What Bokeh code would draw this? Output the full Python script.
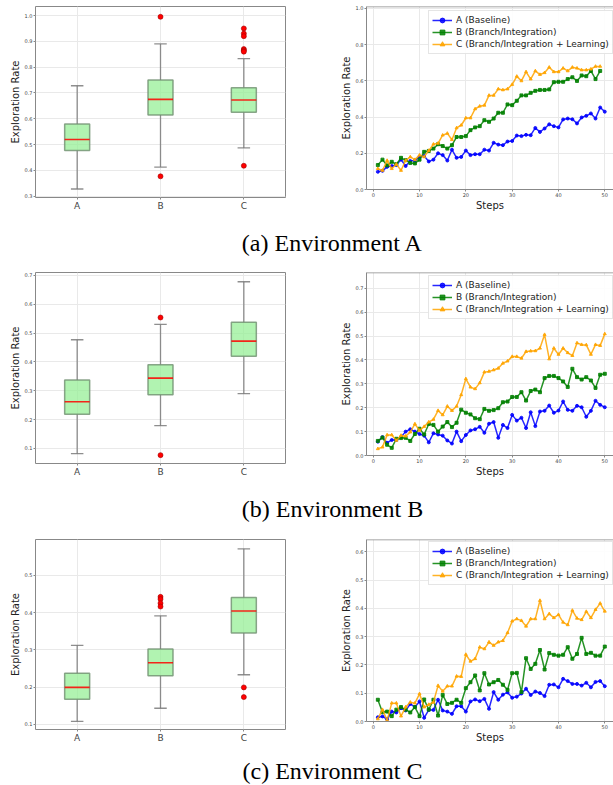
from bokeh.plotting import figure
from bokeh.layouts import column, row
from bokeh.models import (Range1d, FixedTicker, PrintfTickFormatter, Legend,
                          LegendItem, Span, ColumnDataSource, Label)
from bokeh.embed import file_html
from bokeh.resources import INLINE

# ---------------- data ----------------
categories = ["A", "B", "C"]
series_names = ["A (Baseline)", "B (Branch/Integration)", "C (Branch/Integration + Learning)"]
captions = ["(a) Environment A", "(b) Environment B", "(c) Environment C"]

# box statistics: whisker low, q1, median, q3, whisker high ; outliers per category
envA_lo = [0.328, 0.413, 0.487]
envA_q1 = [0.477, 0.615, 0.625]
envA_med = [0.520, 0.675, 0.673]
envA_q3 = [0.580, 0.750, 0.720]
envA_hi = [0.728, 0.890, 0.833]
envA_out = [[], [0.995, 0.377], [0.95, 0.93, 0.92, 0.87, 0.865, 0.86, 0.418]]

envB_lo = [0.082, 0.179, 0.290]
envB_q1 = [0.219, 0.286, 0.420]
envB_med = [0.262, 0.344, 0.472]
envB_q3 = [0.337, 0.390, 0.538]
envB_hi = [0.477, 0.530, 0.678]
envB_out = [[], [0.554, 0.077], []]

envC_lo = [0.108, 0.143, 0.233]
envC_q1 = [0.167, 0.230, 0.345]
envC_med = [0.199, 0.265, 0.404]
envC_q3 = [0.237, 0.302, 0.440]
envC_hi = [0.312, 0.391, 0.571]
envC_out = [[], [0.442, 0.436, 0.425, 0.416], [0.199, 0.173]]

# exploration rate per step
envA_A = [0.098, 0.103, 0.125, 0.13, 0.135, 0.165, 0.13, 0.158, 0.16, 0.18,
          0.185, 0.155, 0.165, 0.20, 0.19, 0.16, 0.22, 0.175, 0.18, 0.215,
          0.19, 0.195, 0.195, 0.22, 0.215, 0.258, 0.248, 0.245, 0.265, 0.268,
          0.298, 0.295, 0.302, 0.30, 0.34, 0.318, 0.337, 0.36, 0.35, 0.343,
          0.387, 0.392, 0.388, 0.365, 0.398, 0.407, 0.42, 0.392, 0.453, 0.43]
envA_B = [0.135, 0.165, 0.133, 0.153, 0.14, 0.175, 0.162, 0.147, 0.144, 0.165,
          0.208, 0.213, 0.226, 0.25, 0.24, 0.226, 0.245, 0.29, 0.29, 0.295,
          0.328, 0.343, 0.35, 0.383, 0.374, 0.392, 0.424, 0.424, 0.47, 0.466,
          0.49, 0.52, 0.52, 0.534, 0.545, 0.55, 0.55, 0.553, 0.593, 0.595,
          0.595, 0.61, 0.62, 0.60, 0.63, 0.626, 0.655, 0.61, 0.655]
envA_C = [0.115, 0.105, 0.16, 0.115, 0.14, 0.105, 0.16, 0.18, 0.165, 0.19,
          0.18, 0.215, 0.25, 0.255, 0.30, 0.31, 0.275, 0.34, 0.355, 0.395,
          0.395, 0.445, 0.46, 0.465, 0.52, 0.52, 0.555, 0.55, 0.555, 0.58,
          0.625, 0.60, 0.65, 0.61, 0.655, 0.635, 0.645, 0.675, 0.65, 0.65,
          0.67, 0.655, 0.675, 0.67, 0.66, 0.66, 0.665, 0.68, 0.68]

envB_A = [0.058, 0.077, 0.053, 0.065, 0.065, 0.077, 0.10, 0.11, 0.10, 0.09,
          0.083, 0.055, 0.093, 0.088, 0.083, 0.063, 0.05, 0.10, 0.06, 0.086,
          0.105, 0.11, 0.12, 0.095, 0.133, 0.14, 0.074, 0.128, 0.115, 0.17,
          0.146, 0.158, 0.115, 0.181, 0.123, 0.184, 0.187, 0.209, 0.179, 0.188,
          0.226, 0.191, 0.187, 0.208, 0.202, 0.162, 0.187, 0.229, 0.212, 0.202]
envB_B = [0.061, 0.075, 0.045, 0.032, 0.07, 0.073, 0.074, 0.061, 0.09, 0.112,
          0.088, 0.132, 0.128, 0.10, 0.121, 0.14, 0.119, 0.137, 0.192, 0.179,
          0.172, 0.156, 0.152, 0.195, 0.187, 0.19, 0.198, 0.223, 0.226, 0.245,
          0.245, 0.265, 0.23, 0.27, 0.276, 0.265, 0.324, 0.333, 0.333, 0.324,
          0.31, 0.287, 0.363, 0.328, 0.318, 0.328, 0.314, 0.283, 0.338, 0.342]
envB_C = [0.028, 0.035, 0.086, 0.086, 0.063, 0.084, 0.081, 0.098, 0.132, 0.105,
          0.121, 0.14, 0.151, 0.188, 0.17, 0.206, 0.188, 0.206, 0.254, 0.321,
          0.286, 0.279, 0.304, 0.349, 0.352, 0.358, 0.365, 0.386, 0.395, 0.414,
          0.414, 0.407, 0.435, 0.437, 0.438, 0.449, 0.506, 0.404, 0.449, 0.423,
          0.449, 0.43, 0.418, 0.471, 0.464, 0.463, 0.423, 0.464, 0.46, 0.509]

envC_A = [0.015, 0.018, 0.008, 0.035, 0.032, 0.047, 0.039, 0.062, 0.051, 0.071,
          0.013, 0.041, 0.041, 0.077, 0.039, 0.035, 0.027, 0.054, 0.054, 0.035,
          0.071, 0.078, 0.072, 0.08, 0.045, 0.104, 0.077, 0.095, 0.103, 0.084,
          0.088, 0.099, 0.116, 0.094, 0.106, 0.101, 0.09, 0.13, 0.131, 0.121,
          0.151, 0.143, 0.133, 0.133, 0.127, 0.137, 0.121, 0.14, 0.143, 0.125]
envC_B = [0.077, 0.033, 0.035, 0.019, 0.042, 0.051, 0.042, 0.032, 0.051, 0.019,
          0.078, 0.042, 0.077, 0.021, 0.094, 0.062, 0.066, 0.077, 0.066, 0.118,
          0.139, 0.163, 0.11, 0.171, 0.131, 0.139, 0.147, 0.13, 0.112, 0.171,
          0.172, 0.104, 0.224, 0.186, 0.204, 0.253, 0.184, 0.242, 0.236, 0.233,
          0.236, 0.263, 0.222, 0.239, 0.296, 0.239, 0.243, 0.233, 0.233, 0.265]
envC_C = [0.009, 0.042, 0.004, 0.065, 0.065, 0.019, 0.051, 0.068, 0.065, 0.098,
          0.051, 0.06, 0.068, 0.127, 0.107, 0.125, 0.125, 0.16, 0.159, 0.237,
          0.213, 0.222, 0.263, 0.257, 0.281, 0.269, 0.281, 0.286, 0.314, 0.355,
          0.363, 0.357, 0.337, 0.363, 0.363, 0.428, 0.363, 0.381, 0.367, 0.378,
          0.351, 0.342, 0.393, 0.365, 0.36, 0.389, 0.367, 0.396, 0.418, 0.39]

box_yticks = [[0.3, 0.4, 0.5, 0.6, 0.7, 0.8, 0.9, 1.0],
              [0.1, 0.2, 0.3, 0.4, 0.5, 0.6, 0.7],
              [0.1, 0.2, 0.3, 0.4, 0.5]]
line_yticks = [[0.0, 0.2, 0.4, 0.6, 0.8, 1.0],
               [0.0, 0.1, 0.2, 0.3, 0.4, 0.5, 0.6, 0.7],
               [0.0, 0.1, 0.2, 0.3, 0.4, 0.5, 0.6]]
step_ticks = [0, 10, 20, 30, 40, 50]

# ---------------- styling ----------------
FONT = "DejaVu Sans"
GRID = "#e9e9e9"
SPINE = "#888888"
COLORS = ["blue", "green", "orange"]
MARKERS = ["circle", "square", "triangle"]
PAGE_W = 613
BOX_W = 305
BOTTOM = 27


def style_axes(p):
    for ax in p.axis:
        ax.major_label_text_font = FONT
        ax.axis_label_text_font = FONT
        ax.axis_label_text_font_style = "normal"
        ax.axis_label_text_font_size = "10px"
        ax.axis_label_text_color = "#222222"
        ax.major_label_text_color = "#444444"
        ax.major_tick_out = 2
        ax.major_tick_in = 0
        ax.minor_tick_out = 0
        ax.minor_tick_in = 0
        ax.major_tick_line_color = SPINE
        ax.major_label_standoff = 1
        ax.axis_label_standoff = 1
    p.grid.grid_line_color = GRID
    p.grid.grid_line_width = 1


def box_fig(h, top, yr, yticks, lo, q1, med, q3, hi, outl):
    p = figure(width=BOX_W, height=h, x_range=Range1d(0.5, 3.5), y_range=Range1d(*yr),
               output_backend="svg", toolbar_location=None,
               min_border_left=35, min_border_right=20,
               min_border_top=top, min_border_bottom=BOTTOM)
    xs = [1, 2, 3]
    src = ColumnDataSource(dict(x=xs, lo=lo, q1=q1, med=med, q3=q3, hi=hi,
                                cl=[x - 0.075 for x in xs], cr=[x + 0.075 for x in xs],
                                bl=[x - 0.15 for x in xs], br=[x + 0.15 for x in xs]))
    wk = dict(line_color="#7a7a7a", line_width=1.3, line_alpha=0.85)
    p.segment(x0="x", y0="lo", x1="x", y1="q1", source=src, **wk)
    p.segment(x0="x", y0="q3", x1="x", y1="hi", source=src, **wk)
    p.segment(x0="cl", y0="lo", x1="cr", y1="lo", source=src, **wk)
    p.segment(x0="cl", y0="hi", x1="cr", y1="hi", source=src, **wk)
    p.vbar(x="x", width=0.3, bottom="q1", top="q3", source=src,
           fill_color="#90ee90", fill_alpha=0.7, line_color="#6f8f6f", line_width=1.5, line_alpha=0.8)
    p.segment(x0="bl", y0="med", x1="br", y1="med", source=src,
              line_color="red", line_width=1.6, line_alpha=0.85)
    ox, oy = [], []
    for x, vals in zip(xs, outl):
        for v in vals:
            ox.append(x)
            oy.append(v)
    p.scatter(ox, oy, size=5, fill_color="red", line_color="#a00000", line_width=0.6)
    p.xaxis.ticker = FixedTicker(ticks=xs)
    p.xaxis.major_label_overrides = {x: c for x, c in zip(xs, categories)}
    p.yaxis.ticker = FixedTicker(ticks=yticks)
    p.yaxis.formatter = PrintfTickFormatter(format="%.1f")
    p.yaxis.axis_label = "Exploration Rate"
    style_axes(p)
    p.xaxis.major_label_text_font_size = "9px"
    p.yaxis.major_label_text_font_size = "5px"
    p.axis.axis_line_color = None
    p.outline_line_color = SPINE
    p.outline_line_width = 1
    return p


def line_fig(h, top, ymax, yticks, sA, sB, sC, leg_y):
    p = figure(width=PAGE_W - BOX_W, height=h, x_range=Range1d(-1.45, 51.88),
               y_range=Range1d(0, ymax),
               output_backend="svg", toolbar_location=None,
               min_border_left=61, min_border_right=0,
               min_border_top=top, min_border_bottom=BOTTOM)
    items = []
    for name, ys, col, mk in zip(series_names, [sA, sB, sC], COLORS, MARKERS):
        xs = list(range(1, len(ys) + 1))
        r1 = p.line(xs, ys, line_color=col, line_width=1.5, line_alpha=0.85)
        r2 = p.scatter(xs, ys, marker=mk, size=3, fill_color=col, line_color=col, alpha=0.85)
        items.append(LegendItem(label=name, renderers=[r1, r2]))
    leg = Legend(items=items, location=(62, leg_y), label_text_font=FONT,
                 label_text_font_size="9px", label_text_color="#222222",
                 glyph_width=20, glyph_height=12, label_height=12, label_standoff=4,
                 spacing=0, padding=3, margin=0, border_line_color="#cccccc",
                 border_line_width=1, background_fill_alpha=0.9)
    p.add_layout(leg)
    p.add_layout(Span(location=ymax, dimension="width", line_color=SPINE, line_width=1.5))
    p.xaxis.ticker = FixedTicker(ticks=step_ticks)
    p.yaxis.ticker = FixedTicker(ticks=yticks)
    p.yaxis.formatter = PrintfTickFormatter(format="%.1f")
    p.xaxis.axis_label = "Steps"
    p.yaxis.axis_label = "Exploration Rate"
    style_axes(p)
    p.xaxis.axis_label_standoff = 0
    p.axis.major_label_text_font_size = "5px"
    p.axis.axis_line_color = SPINE
    p.outline_line_color = None
    return p


def cap_fig(h, base_from_top, txt):
    p = figure(width=PAGE_W, height=h, x_range=Range1d(0, PAGE_W), y_range=Range1d(0, h),
               output_backend="svg", toolbar_location=None, min_border=0,
               x_axis_type=None, y_axis_type=None)
    p.grid.visible = False
    p.outline_line_color = None
    p.add_layout(Label(x=332, y=h - base_from_top, text=txt, text_font="Liberation Serif",
                       text_font_size="24px", text_align="center",
                       text_baseline="alphabetic", text_color="black"))
    return p


# row 1: box frame 6..197, line frame 6..189
b1 = box_fig(224, 6, (0.295, 1.035), box_yticks[0],
             envA_lo, envA_q1, envA_med, envA_q3, envA_hi, envA_out)
l1 = line_fig(216, 6, 1.011, line_yticks[0], envA_A, envA_B, envA_C, 135)
c1 = cap_fig(34, 18, captions[0])

# row 2 starts at 258: box frame 272..463, line frame 272..455
b2 = box_fig(232, 14, (0.048, 0.710), box_yticks[1],
             envB_lo, envB_q1, envB_med, envB_q3, envB_hi, envB_out)
l2 = line_fig(224, 14, 0.766, line_yticks[1], envB_A, envB_B, envB_C, 136)
c2 = cap_fig(34, 18, captions[1])

# row 3 starts at 524: box frame 539..729, line frame 539..721
b3 = box_fig(232, 15, (0.086, 0.596), box_yticks[2],
             envC_lo, envC_q1, envC_med, envC_q3, envC_hi, envC_out)
l3 = line_fig(224, 15, 0.644, line_yticks[2], envC_A, envC_B, envC_C, 136)
c3 = cap_fig(28, 14, captions[2])

page = column(row(b1, l1), c1, row(b2, l2), c2, row(b3, l3), c3)

open("out.html", "w").write(file_html(page, INLINE))
